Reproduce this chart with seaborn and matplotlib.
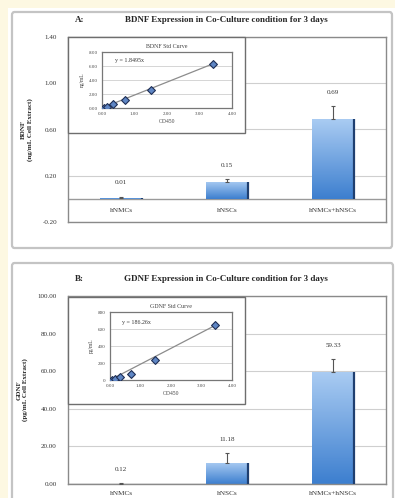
import numpy as np
import matplotlib
matplotlib.use("Agg")
import matplotlib.pyplot as plt
import seaborn as sns
from matplotlib.patches import FancyBboxPatch, Rectangle

sns.set_theme(style="white")
plt.rcParams['font.family'] = ['Liberation Serif', 'DejaVu Serif']

# ---- data ----
cats = ["hNMCs", "hNSCs", "hNMCs+hNSCs"]

bdnf_vals = [0.01, 0.15, 0.69]
bdnf_err = [0.01, 0.02, 0.11]
gdnf_vals = [0.12, 11.18, 59.33]
gdnf_err = [0.2, 5.2, 7.0]

bdnf_od = [0.05, 0.15, 0.35, 0.72, 1.50, 3.42]
bdnf_conc = [0.0, 0.2, 0.5, 1.2, 2.6, 6.3]
bdnf_slope = 1.8495

gdnf_od = [0.05, 0.15, 0.32, 0.68, 1.47, 3.45]
gdnf_conc = [0, 12, 35, 70, 230, 650]
gdnf_slope = 186.26

W, H = 395, 498
fig = plt.figure(figsize=(W / 100, H / 100), dpi=100)
fig.patch.set_facecolor("white")


def box(x0, y0, x1, y1):
    return [x0 / W, 1 - y1 / H, (x1 - x0) / W, (y1 - y0) / H]


# cream strips on left / top edge
fig.patches.append(Rectangle((0, 0), 8 / W, 1, transform=fig.transFigure,
                             facecolor="#fdf8e2", edgecolor="none", zorder=-3))
fig.patches.append(Rectangle((0, 1 - 8 / H), 1, 8 / H, transform=fig.transFigure,
                             facecolor="#fdf8e2", edgecolor="none", zorder=-3))

# panel frames
for (x0, y0, x1, y1) in [(12, 12, 392, 248), (12, 263, 393, 502)]:
    b = box(x0, y0, x1, y1)
    fig.patches.append(FancyBboxPatch((b[0], b[1]), b[2], b[3],
                                      boxstyle="round,pad=0,rounding_size=0.006",
                                      transform=fig.transFigure, facecolor="white",
                                      edgecolor="#c4c4c4", linewidth=1.6, zorder=-2))

grad = np.linspace(0, 1, 100).reshape(-1, 1)
bar_cmap = matplotlib.colors.LinearSegmentedColormap.from_list(
    "bar", ["#3d7fcf", "#a9cbf2"])


def main_panel(ax, vals, errs, ylim, yticks, ylabel, title, letter, cat_y):
    sns.barplot(x=cats, y=vals, ax=ax, width=0.4, color="#6fa3e0",
                edgecolor="none", zorder=2)
    ax.set_ylim(*ylim)
    ax.set_xlim(-0.5, 2.5)
    ax.set_yticks(yticks)
    ax.set_yticklabels([f"{t:.2f}" for t in yticks], fontsize=5, color="#333333")
    ax.yaxis.grid(True, color="#cfcfcf", linewidth=0.8)
    ax.set_axisbelow(True)
    ax.tick_params(axis="y", length=0, pad=8)
    for s in ax.spines.values():
        s.set_color("#8a8a8a")
        s.set_linewidth(1.0)
    ax.axhline(0, color="#9a9a9a", linewidth=1.0, zorder=1)

    # gradient fill + dark right edge on each bar
    for p in ax.patches:
        x0, w, h = p.get_x(), p.get_width(), p.get_height()
        im = ax.imshow(grad, extent=[x0, x0 + w, 0, h], cmap=bar_cmap,
                       aspect="auto", origin="lower", zorder=2.5)
        im.set_clip_path(p)
        ax.plot([x0 + w, x0 + w], [0, h], color="#1f3f70", linewidth=1.6,
                zorder=2.6, solid_capstyle="butt")
    ax.set_aspect("auto")
    ax.set_xlim(-0.5, 2.5)
    ax.set_ylim(*ylim)

    ax.errorbar(range(len(vals)), vals, yerr=[np.zeros(len(vals)), errs],
                fmt="none", ecolor="#555555", elinewidth=0.8, capsize=1.5,
                capthick=0.8, zorder=3)
    for i, (v, e) in enumerate(zip(vals, errs)):
        ax.annotate(f"{v:.2f}", (i, v + e), xytext=(0, 10),
                    textcoords="offset points", ha="center", va="center",
                    fontsize=5, color="#333333")

    ax.set_xticks([])
    ax.set_xlabel("")
    for i, c in enumerate(cats):
        ax.text(i, cat_y, c, ha="center", va="center", fontsize=5.2,
                color="#333333", transform=ax.get_xaxis_transform())
    ax.set_ylabel(ylabel, fontsize=5, fontweight="bold", labelpad=7,
                  linespacing=1.1)
    fig.text(75 / W, ax.get_position().y1 + 17 / H, letter, fontsize=6.5,
             fontweight="bold", va="center")
    fig.text(226 / W, ax.get_position().y1 + 17 / H, title, fontsize=6.5,
             fontweight="bold", va="center", ha="center")


def inset(outer, inner, od, conc, slope, ylim, yticks, yfmt, title, eq, ylab):
    b = box(*outer)
    fig.patches.append(Rectangle((b[0], b[1]), b[2], b[3], transform=fig.transFigure,
                                 facecolor="white", edgecolor="#6e6e6e",
                                 linewidth=1.0, zorder=5))
    ax = fig.add_axes(box(*inner), zorder=6)
    xs = np.array([0, max(od)])
    ax.plot(xs, slope * xs, color="#8c8c8c", linewidth=0.9, zorder=2)
    sns.scatterplot(x=od, y=conc, ax=ax, marker="D", s=16, color="#5f86c4",
                    edgecolor="#1f2f55", linewidth=0.8, zorder=3)
    ax.set_xlim(0, 4)
    ax.set_ylim(*ylim)
    ax.set_xticks([0, 1, 2, 3, 4])
    ax.set_xticklabels([f"{t:.2f}" for t in [0, 1, 2, 3, 4]], fontsize=3.6,
                       color="#444444")
    ax.set_yticks(yticks)
    ax.set_yticklabels([yfmt.format(t) for t in yticks], fontsize=3.6,
                       color="#444444")
    ax.tick_params(length=0, pad=3)
    ax.yaxis.grid(True, color="#cfcfcf", linewidth=0.6)
    ax.set_axisbelow(True)
    for s in ax.spines.values():
        s.set_color("#777777")
        s.set_linewidth(0.9)
    ax.set_xlabel("OD450", fontsize=4, color="#444444", labelpad=2)
    ax.set_ylabel(ylab, fontsize=4, color="#444444", labelpad=3)
    ax.set_title(title, fontsize=4.3, color="#444444", pad=3)
    ax.text(0.1, 0.85, eq, transform=ax.transAxes, fontsize=4.3, color="#333333",
            va="center")
    return ax


# Panel A
axA = fig.add_axes(box(68, 37, 386, 222), zorder=1)
main_panel(axA, bdnf_vals, bdnf_err, (-0.2, 1.4), [-0.2, 0.2, 0.6, 1.0, 1.4],
           "BDNF\n(ng/mL Cell Extract)",
           "BDNF Expression in Co-Culture condition for 3 days", "A:", 0.062)
inset((68, 37, 245, 133), (102, 52, 232, 108), bdnf_od, bdnf_conc, bdnf_slope,
      (0, 8), [0, 2, 4, 6, 8], "{:.2f}", "BDNF Std Curve",
      f"y = {bdnf_slope}x", "ng/mL")

# Panel B
axB = fig.add_axes(box(68, 296, 386, 484), zorder=1)
main_panel(axB, gdnf_vals, gdnf_err, (0, 100), [0, 20, 40, 60, 80, 100],
           "GDNF\n(pg/mL Cell Extract)",
           "GDNF Expression in Co-Culture condition for 3 days", "B:", -0.05)
inset((68, 297, 245, 404), (110, 312, 232, 380), gdnf_od, gdnf_conc, gdnf_slope,
      (0, 800), [0, 200, 400, 600, 800], "{:.0f}", "GDNF Std Curve",
      f"y = {gdnf_slope}x", "pg/mL")

fig.savefig("out.png", dpi=100, facecolor=fig.get_facecolor())
